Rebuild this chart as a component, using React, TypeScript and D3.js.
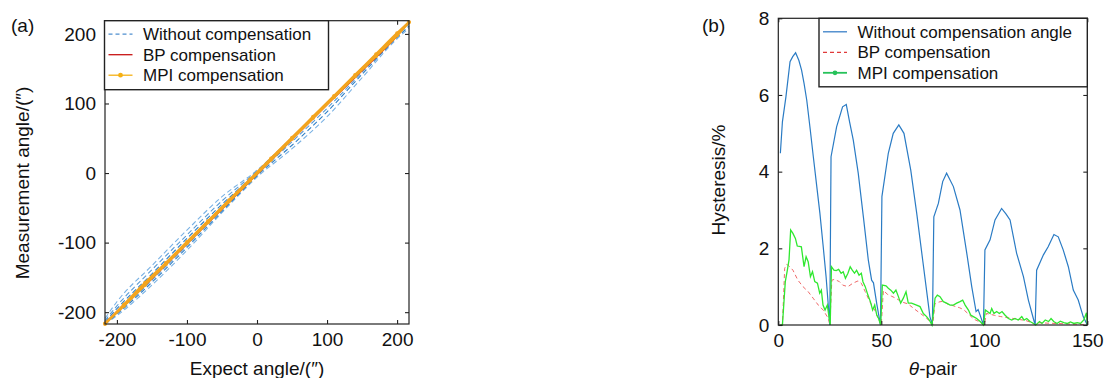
import { useEffect, useRef } from 'react'
import * as d3 from 'd3'

type Pt = [number, number]

// ---- panel (a): measurement vs expected angle ----
const expectGrid = [-217, -200, -150, -100, -50, 0, 50, 100, 150, 200, 217]
const withoutUpOuter = [-209, -185, -133, -82, -34, 4, 51, 100, 149, 199, 217]
const withoutDownOuter = [-217, -205, -161, -111, -57, -6, 35, 81, 137, 193, 208]
const withoutUpMid = [-212, -191, -139, -89, -40, 3, 51, 100, 149, 199, 217]
const withoutDownMid = [-217, -203, -157, -107, -55, -4, 40, 88, 142, 195, 211]
const withoutUpInner = [-214, -195, -145, -94, -45, 1, 50, 100, 150, 200, 217]
const withoutDownInner = [-217, -202, -154, -104, -52, -2, 45, 93, 145, 198, 214]

const bpX = [-217, -150, -100, -50, 0, 50, 100, 150, 200, 217]
const bpUp = [-217, -152, -102, -52, -2, 48, 98, 147, 197, 217]
const bpDown = [-216, -149, -99, -49, 1, 51, 101, 151, 200, 217]

const mpiX = [-217, -190, -160, -130, -100, -70, -40, -10, 20, 50, 80, 110, 140, 170, 200, 217]
const mpiUp = [-217, -189, -158, -129, -99, -69, -39, -9, 21, 51, 81, 111, 141, 171, 201, 217]
const mpiDown = [-216, -191, -161, -131, -101, -71, -41, -11, 19, 49, 79, 109, 139, 168, 198, 217]

const angleTicks = [-200, -100, 0, 100, 200]

// ---- panel (b): hysteresis per theta-pair ----
const withoutAngle: Pt[] = [
  [1, 4.48], [2, 5.3], [3.7, 5.95], [5.7, 6.87], [7, 7.0], [8.4, 7.1], [10, 6.9], [11.3, 6.65], [12.5, 6.3],
  [13.8, 5.87], [15.5, 5.1], [17, 4.39], [18.6, 3.65], [20.2, 2.91], [21.7, 2.1], [23.2, 1.26], [25, 0],
  [25.6, 4.39], [28.3, 5.17], [31.2, 5.69], [33, 5.75], [34.6, 5.3], [36.4, 4.82], [38.8, 3.96], [41.3, 2.82],
  [43.7, 1.69], [45.3, 1.17], [46.2, 1.1], [47.8, 0.55], [49.6, 0],
  [50.3, 3.35], [53.4, 4.48], [55.8, 5.0], [58.5, 5.22], [61, 5.0], [64.3, 4.04], [67.2, 2.91], [70.1, 1.69],
  [73.6, 0.22], [74.8, 0],
  [75.5, 2.82], [77.7, 3.17], [79.8, 3.74], [81.7, 3.96], [85, 3.61], [88.2, 3.0], [91.5, 1.87], [93.9, 1.0],
  [96, 0.35], [97, 0.4], [98, 0.25], [99.6, 0],
  [100.3, 1.96], [102.8, 2.22], [105.2, 2.74], [108.4, 3.04], [110.5, 2.9], [112.5, 2.74], [115.7, 1.87],
  [119, 1.26], [121.4, 0.65], [123.8, 0.17], [124.7, 0],
  [125.4, 1.43], [128.7, 1.83], [131, 2.04], [133.8, 2.36], [135.9, 2.3], [138.3, 1.96], [140.8, 1.52],
  [143.2, 0.91], [145.6, 0.65], [148, 0.22], [150, 0],
]

const bpHyst: Pt[] = [
  [1, 0], [2, 0], [3.1, 1.48], [4, 1.58], [5, 1.55], [7.1, 1.43], [9.5, 1.17], [12, 1.0], [14.5, 0.87],
  [16.9, 0.7], [19.4, 0.52], [21.8, 0.39], [24.3, 0.17], [25, 0],
  [26, 1.17], [27.3, 1.19], [29.7, 1.13], [31.3, 1.04], [33.8, 1.0], [36.2, 1.09], [38.7, 1.15], [40.3, 1.09],
  [42.2, 0.87], [44.4, 0.61], [46.8, 0.39], [48.5, 0.17], [50, 0],
  [51, 0.9], [53, 0.8], [55, 0.75], [57, 0.7], [60, 0.6], [63, 0.55], [66, 0.42], [69, 0.3], [72, 0.18], [75, 0],
  [76, 0.55], [78, 0.6], [80, 0.62], [82, 0.55], [85, 0.5], [88, 0.45], [90, 0.4], [92, 0.3], [95, 0.15],
  [97, 0.1], [100, 0],
  [101, 0.3], [103, 0.28], [105, 0.25], [108, 0.22], [110, 0.2], [113, 0.18], [116, 0.15], [120, 0.12],
  [123, 0.06], [125, 0],
  [126, 0.06], [130, 0.05], [135, 0.04], [140, 0.03], [145, 0.02], [150, 0],
]

const mpiHyst: Pt[] = [
  [1, 0], [2, 0], [3.4, 1.13], [4.4, 1.43], [5.2, 1.7], [6, 2.48], [7.1, 2.39], [8.3, 2.26], [9.2, 2.06],
  [10.2, 2.05], [11.2, 2.04], [12.5, 1.52], [13.5, 1.78], [14.5, 1.65], [15.6, 1.26], [16.6, 1.39], [17.7, 1.13],
  [19, 1.09], [20.1, 0.83], [20.9, 0.91], [21.7, 0.52], [22.7, 0.39], [23.8, 0.52], [24.6, 0.22], [25.2, 0],
  [25.8, 1.52], [27, 1.43], [28.1, 1.42], [29.3, 1.45], [30.5, 1.35], [31.5, 1.39], [32.6, 1.22], [33.8, 1.35],
  [34.9, 1.52], [35.9, 1.43], [37, 1.35], [38, 1.43], [39.2, 1.3], [40.3, 1.35], [41.1, 1.13], [42.2, 1.0],
  [43.5, 0.78], [44.7, 0.61], [45.8, 0.39], [46.8, 0.52], [47.8, 0.26], [48.7, 0.17], [49.7, 0],
  [50.5, 1.04], [52.3, 1.02], [53.4, 0.96], [54.6, 0.91], [55.9, 0.83], [57.1, 0.91], [58.3, 0.74], [59.4, 0.57],
  [60.7, 0.7], [62, 0.87], [63.1, 0.57], [64.7, 0.57], [67.1, 0.52], [68.8, 0.48], [70.4, 0.3], [72, 0.22],
  [73.3, 0.13], [74.6, 0],
  [76.1, 0.7], [77.2, 0.78], [78.5, 0.74], [80.1, 0.61], [81.7, 0.57], [83.4, 0.52], [85, 0.52], [86.6, 0.57],
  [88.2, 0.61], [89.5, 0.65], [90.7, 0.52], [92.3, 0.39], [93.4, 0.26], [94.7, 0.22], [96.3, 0.17], [98, 0.09],
  [99.6, 0],
  [100.5, 0.39], [102.8, 0.3], [103.6, 0.43], [104.7, 0.3], [106, 0.35], [107.3, 0.3], [108.6, 0.35], [110, 0.26],
  [111.7, 0.17], [113.3, 0.13], [114.9, 0.17], [116.5, 0.13], [118.2, 0.22], [119.3, 0.13], [120.6, 0.17],
  [122.2, 0.09], [123.9, 0.04], [125, 0],
  [126.8, 0.09], [128, 0.04], [129.6, 0.13], [131.2, 0.09], [132.4, 0.17], [133.7, 0.09], [135.3, 0.04],
  [136.9, 0.1], [138.6, 0.06], [140.2, 0.04], [141.8, 0.08], [143.5, 0.04], [145.1, 0.06], [146.7, 0.04],
  [148.3, 0.13], [149.6, 0.32], [150, 0],
]

const pairTicks = [0, 50, 100, 150]
const hystTicks = [0, 2, 4, 6, 8]

const FONT = "'Liberation Sans', Arial, sans-serif"

const zip = (xs: number[], ys: number[]): Pt[] => xs.map((x, i) => [x, ys[i]])

function drawFrame(g, x, y, xTicks, yTicks) {
  const [x0, x1] = x.range()
  const [y0, y1] = y.range()

  const bottom = g.append("g").attr("transform", `translate(0,${y0})`)
    .call(d3.axisBottom(x).tickValues(xTicks).tickSizeInner(-4).tickSizeOuter(0).tickPadding(9).tickFormat(d => String(d)))
  const left = g.append("g").attr("transform", `translate(${x0},0)`)
    .call(d3.axisLeft(y).tickValues(yTicks).tickSizeInner(-4).tickSizeOuter(0).tickPadding(9).tickFormat(d => String(d)))
  g.append("g").attr("transform", `translate(0,${y1})`)
    .call(d3.axisTop(x).tickValues(xTicks).tickSizeInner(-4).tickSizeOuter(0).tickFormat(() => ""))
  g.append("g").attr("transform", `translate(${x1},0)`)
    .call(d3.axisRight(y).tickValues(yTicks).tickSizeInner(-4).tickSizeOuter(0).tickFormat(() => ""))

  g.selectAll(".domain").remove()
  g.selectAll(".tick line").attr("stroke", "#222").attr("stroke-width", 1.1)
  for (const a of [bottom, left]) {
    a.selectAll("text").style("font-family", FONT).style("font-size", "19px").attr("fill", "#111")
  }
  bottom.selectAll("text").attr("dy", "0.71em")

  g.append("rect")
    .attr("x", x0).attr("y", y1).attr("width", x1 - x0).attr("height", y0 - y1)
    .attr("fill", "none").attr("stroke", "#222").attr("stroke-width", 1.2)
}

function drawLegend(g, x, y, w, h, rows, textX) {
  g.append("rect").attr("x", x).attr("y", y).attr("width", w).attr("height", h)
    .attr("fill", "#fff").attr("stroke", "#222").attr("stroke-width", 1.4)
  rows.forEach((r, i) => {
    const cy = y + 13.5 + i * 20.5
    g.append("line").attr("x1", x + 4).attr("x2", x + 28).attr("y1", cy).attr("y2", cy)
      .attr("stroke", r.color).attr("stroke-width", r.width || 1.3)
      .attr("stroke-dasharray", r.dash || null)
    if (r.marker) {
      g.append("circle").attr("cx", x + 16).attr("cy", cy).attr("r", 2.4).attr("fill", r.color)
    }
    g.append("text").attr("x", textX).attr("y", cy + 6)
      .style("font-family", FONT).style("font-size", "17px").attr("fill", "#111")
      .text(r.label)
  })
}

export default function App() {
  const svgRef = useRef<SVGSVGElement>(null)

  useEffect(() => {
    if (!svgRef.current) return
    const svg = d3.select(svgRef.current)
    svg.selectAll("*").remove()

    // ---------- (a) ----------
    const ga = svg.append("g")
    const xa = d3.scaleLinear().domain([-217, 217]).range([105, 409])
    const ya = d3.scaleLinear().domain([-217, 219]).range([324, 20.7])
    const lineA = d3.line<Pt>().x(d => xa(d[0])).y(d => ya(d[1])).curve(d3.curveMonotoneX)

    const plotA = ga.append("g")
    const blueLoops = [
      { ys: withoutUpOuter, color: "#7ab2e4" },
      { ys: withoutDownOuter, color: "#7ab2e4" },
      { ys: withoutUpMid, color: "#5b9bd5" },
      { ys: withoutDownMid, color: "#2f7fc6" },
      { ys: withoutUpInner, color: "#2f7fc6" },
      { ys: withoutDownInner, color: "#5b9bd5" },
    ]
    blueLoops.forEach(b => {
      plotA.append("path").attr("d", lineA(zip(expectGrid, b.ys)))
        .attr("fill", "none").attr("stroke", b.color).attr("stroke-width", 1.1)
        .attr("stroke-dasharray", "5,3")
    })
    for (const ys of [bpUp, bpDown]) {
      plotA.append("path").attr("d", lineA(zip(bpX, ys)))
        .attr("fill", "none").attr("stroke", "#c81414").attr("stroke-width", 1.3)
    }
    for (const ys of [mpiUp, mpiDown]) {
      const pts = zip(mpiX, ys)
      plotA.append("path").attr("d", lineA(pts))
        .attr("fill", "none").attr("stroke", "#f3a51f").attr("stroke-width", 2.4)
      plotA.selectAll(null).data(pts).enter().append("circle")
        .attr("cx", d => xa(d[0])).attr("cy", d => ya(d[1])).attr("r", 1.9)
        .attr("fill", "#f3a51f")
    }

    drawFrame(ga, xa, ya, angleTicks, angleTicks)
    drawLegend(ga, 104.5, 20.7, 224, 69, [
      { label: "Without compensation", color: "#4f8fd0", dash: "4,3" },
      { label: "BP compensation", color: "#c81414" },
      { label: "MPI compensation", color: "#f5b014", marker: true },
    ], 143)

    ga.append("text").attr("x", 11).attr("y", 32)
      .style("font-family", FONT).style("font-size", "19px").attr("fill", "#111").text("(a)")
    ga.append("text").attr("x", 257).attr("y", 375).attr("text-anchor", "middle")
      .style("font-family", FONT).style("font-size", "19px").attr("fill", "#111").text("Expect angle/(″)")
    ga.append("text").attr("transform", "translate(29,183) rotate(-90)").attr("text-anchor", "middle")
      .style("font-family", FONT).style("font-size", "19px").attr("fill", "#111").text("Measurement angle/(″)")

    // ---------- (b) ----------
    const gb = svg.append("g")
    const xb = d3.scaleLinear().domain([0, 150]).range([778.3, 1087.3])
    const yb = d3.scaleLinear().domain([0, 8]).range([325, 18.3])
    const lineB = d3.line<Pt>().x(d => xb(d[0])).y(d => yb(d[1]))

    gb.append("path").attr("d", lineB(bpHyst))
      .attr("fill", "none").attr("stroke", "#f06a6a").attr("stroke-width", 1)
      .attr("stroke-dasharray", "4,3")
    gb.append("path").attr("d", lineB(withoutAngle))
      .attr("fill", "none").attr("stroke", "#2a7bc4").attr("stroke-width", 1.2)
    gb.append("path").attr("d", lineB(mpiHyst))
      .attr("fill", "none").attr("stroke", "#2fe82f").attr("stroke-width", 1.3)

    drawFrame(gb, xb, yb, pairTicks, hystTicks)
    drawLegend(gb, 819, 18.3, 268.3, 68.5, [
      { label: "Without compensation angle", color: "#3a80c8" },
      { label: "BP compensation", color: "#e03a3a", dash: "4,3" },
      { label: "MPI compensation", color: "#26c25a", marker: true, width: 1.8 },
    ], 857.5)

    gb.append("text").attr("x", 702).attr("y", 32)
      .style("font-family", FONT).style("font-size", "19px").attr("fill", "#111").text("(b)")
    const xt = gb.append("text").attr("x", 933).attr("y", 375).attr("text-anchor", "middle")
      .style("font-family", FONT).style("font-size", "19px").attr("fill", "#111")
    xt.append("tspan").style("font-style", "italic").text("θ")
    xt.append("tspan").text("-pair")
    gb.append("text").attr("transform", "translate(725,180) rotate(-90)").attr("text-anchor", "middle")
      .style("font-family", FONT).style("font-size", "19px").attr("fill", "#111").text("Hysteresis/%")
  }, [])

  return (
    <svg
      ref={svgRef}
      width={1106}
      height={378}
      style={{ position: "absolute", left: 0, top: 0, background: "#fff" }}
    />
  )
}
